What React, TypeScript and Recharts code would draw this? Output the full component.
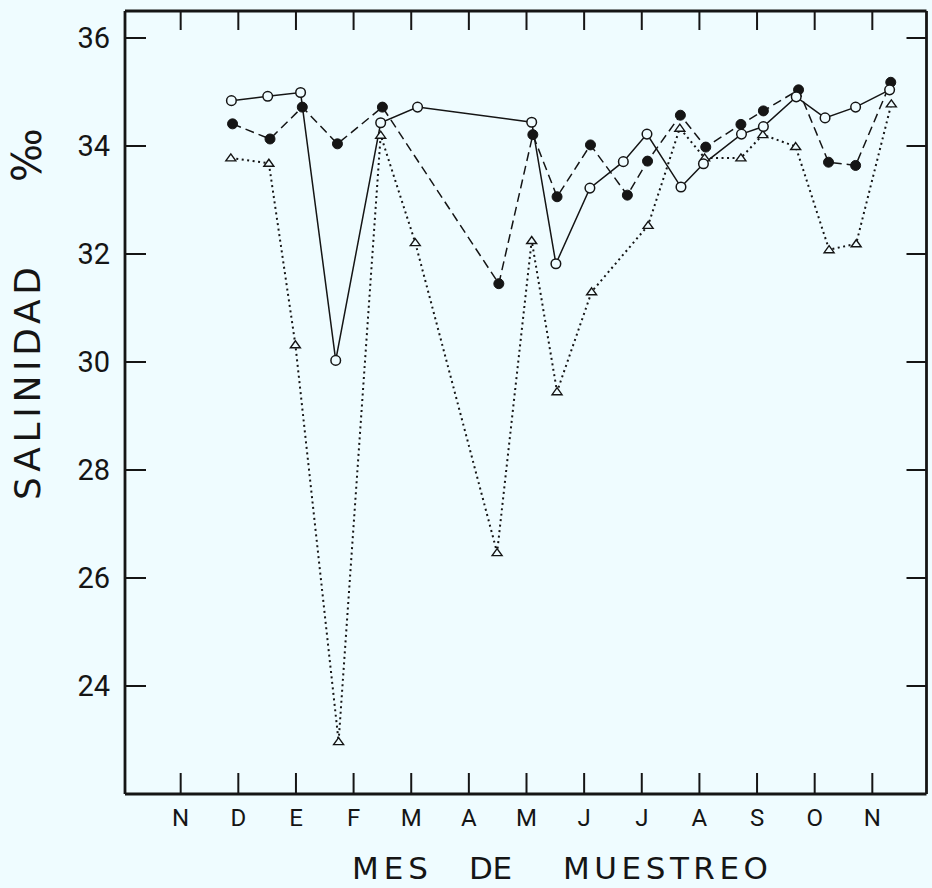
import { LineChart, Line, XAxis, YAxis } from "recharts";

const months = ["N", "D", "E", "F", "M", "A", "M", "J", "J", "A", "S", "O", "N"];
const monthTicks = months.map((_, i) => i);
const salTicks = [24, 26, 28, 30, 32, 34, 36];

// open circles, solid line
const openX = [0.88, 1.51, 2.08, 2.69, 3.47, 4.11, 6.09, 6.51, 7.1, 7.68, 8.09, 8.68, 9.07, 9.73, 10.11, 10.68, 11.18, 11.71, 12.3];
const openY = [34.84, 34.92, 34.99, 30.03, 34.43, 34.72, 34.44, 31.82, 33.22, 33.71, 34.22, 33.24, 33.67, 34.22, 34.36, 34.91, 34.52, 34.72, 35.04];

// filled circles, dashed line
const filledX = [0.9, 1.55, 2.11, 2.72, 3.5, 5.52, 6.11, 6.53, 7.11, 7.75, 8.1, 8.67, 9.11, 9.72, 10.11, 10.72, 11.24, 11.71, 12.32];
const filledY = [34.41, 34.13, 34.72, 34.04, 34.72, 31.45, 34.21, 33.06, 34.02, 33.09, 33.72, 34.57, 33.98, 34.4, 34.65, 35.04, 33.7, 33.64, 35.18];

// triangles, dotted line
const triX = [0.87, 1.53, 1.99, 2.74, 3.47, 4.07, 5.49, 6.09, 6.53, 7.13, 8.11, 8.66, 9.09, 9.72, 10.1, 10.67, 11.25, 11.72, 12.33];
const triY = [33.78, 33.68, 30.32, 22.97, 34.2, 32.21, 26.47, 32.25, 29.45, 31.3, 32.53, 34.33, 33.78, 33.78, 34.21, 33.99, 32.08, 32.19, 34.78];

const toRows = (xs: number[], ys: number[]) => xs.map((x, i) => ({ x, y: ys[i] }));
const openData = toRows(openX, openY);
const filledData = toRows(filledX, filledY);
const triData = toRows(triX, triY);

const BG = "#effcff";
const INK = "#151515";
const FONT = "Roboto, 'DejaVu Sans', sans-serif";
const TITLE_FONT = "'DejaVu Sans', sans-serif";
const TICK = 21;

const BottomTick = (p: any) => (
  <g>
    <line x1={p.x} y1={p.y} x2={p.x} y2={p.y - TICK} stroke={INK} strokeWidth={2} />
    <text x={p.x} y={p.y + 32} textAnchor="middle" fontSize={24} fontFamily={FONT} fill={INK}>
      {months[p.payload.value]}
    </text>
  </g>
);
const TopTick = (p: any) => (
  <line x1={p.x} y1={p.y} x2={p.x} y2={p.y + TICK - 2} stroke={INK} strokeWidth={2} />
);
const LeftTick = (p: any) => (
  <g>
    <line x1={p.x} y1={p.y} x2={p.x + TICK} y2={p.y} stroke={INK} strokeWidth={2} />
    <text x={p.x - 15} y={p.y + 10} textAnchor="end" fontSize={29} fontFamily={FONT} fill={INK}>
      {p.payload.value}
    </text>
  </g>
);
const RightTick = (p: any) => (
  <line x1={p.x} y1={p.y} x2={p.x - TICK + 1} y2={p.y} stroke={INK} strokeWidth={2} />
);

const OpenDot = (p: any) => (
  <circle key={p.index} cx={p.cx} cy={p.cy} r={4.8} fill={BG} stroke={INK} strokeWidth={1.5} />
);
const FilledDot = (p: any) => (
  <circle key={p.index} cx={p.cx} cy={p.cy} r={5} fill={INK} stroke={INK} strokeWidth={1} />
);
const TriDot = (p: any) => (
  <path
    key={p.index}
    d={`M${p.cx},${p.cy - 4} L${p.cx + 5},${p.cy + 3} L${p.cx - 5},${p.cy + 3} Z`}
    fill={BG}
    stroke={INK}
    strokeWidth={1.4}
  />
);

export default function App() {
  return (
    <div style={{ position: "absolute", left: 0, top: 0, width: 932, height: 888, background: BG }}>
      <LineChart width={932} height={888} margin={{ top: 10, right: 4.5, bottom: 34, left: 10 }}>
        <XAxis
          xAxisId={0}
          dataKey="x"
          type="number"
          domain={[-0.966, 12.94]}
          ticks={monthTicks}
          allowDataOverflow
          height={60}
          tickSize={0}
          tickMargin={0}
          tickLine={false}
          tick={<BottomTick />}
          axisLine={{ stroke: INK, strokeWidth: 2.8 }}
          interval={0}
        />
        <XAxis
          xAxisId="top"
          orientation="top"
          dataKey="x"
          type="number"
          domain={[-0.966, 12.94]}
          ticks={monthTicks}
          allowDataOverflow
          height={1}
          tickSize={0}
          tickMargin={0}
          tickLine={false}
          tick={<TopTick />}
          axisLine={{ stroke: INK, strokeWidth: 2.8 }}
          interval={0}
        />
        <YAxis
          yAxisId={0}
          type="number"
          domain={[22, 36.5]}
          ticks={salTicks}
          allowDataOverflow
          width={115}
          tickSize={0}
          tickMargin={0}
          tickLine={false}
          tick={<LeftTick />}
          axisLine={{ stroke: INK, strokeWidth: 2.8 }}
          interval={0}
        />
        <YAxis
          yAxisId="right"
          orientation="right"
          type="number"
          domain={[22, 36.5]}
          ticks={salTicks}
          allowDataOverflow
          width={1}
          tickSize={0}
          tickMargin={0}
          tickLine={false}
          tick={<RightTick />}
          axisLine={{ stroke: INK, strokeWidth: 2.8 }}
          interval={0}
        />
        <Line
          data={triData}
          dataKey="y"
          stroke={INK}
          strokeWidth={2}
          strokeDasharray="2 3.5"
          dot={TriDot}
          activeDot={false}
          isAnimationActive={false}
        />
        <Line
          data={filledData}
          dataKey="y"
          stroke={INK}
          strokeWidth={1.5}
          strokeDasharray="9 5"
          dot={FilledDot}
          activeDot={false}
          isAnimationActive={false}
        />
        <Line
          data={openData}
          dataKey="y"
          stroke={INK}
          strokeWidth={1.5}
          dot={OpenDot}
          activeDot={false}
          isAnimationActive={false}
        />
        <g fontFamily={TITLE_FONT} fill={INK} fontSize={31}>
          <text x={352} y={879} textLength={76} lengthAdjust="spacing">MES</text>
          <text x={469} y={879} textLength={43} lengthAdjust="spacing">DE</text>
          <text x={563} y={879} textLength={205} lengthAdjust="spacing">MUESTREO</text>
          <text transform="translate(40,500) rotate(-90)" fontSize={36} textLength={233} lengthAdjust="spacing">
            SALINIDAD
          </text>
          <text transform="translate(41,182) rotate(-90)" fontSize={40}>
            ‰
          </text>
        </g>
      </LineChart>
    </div>
  );
}
